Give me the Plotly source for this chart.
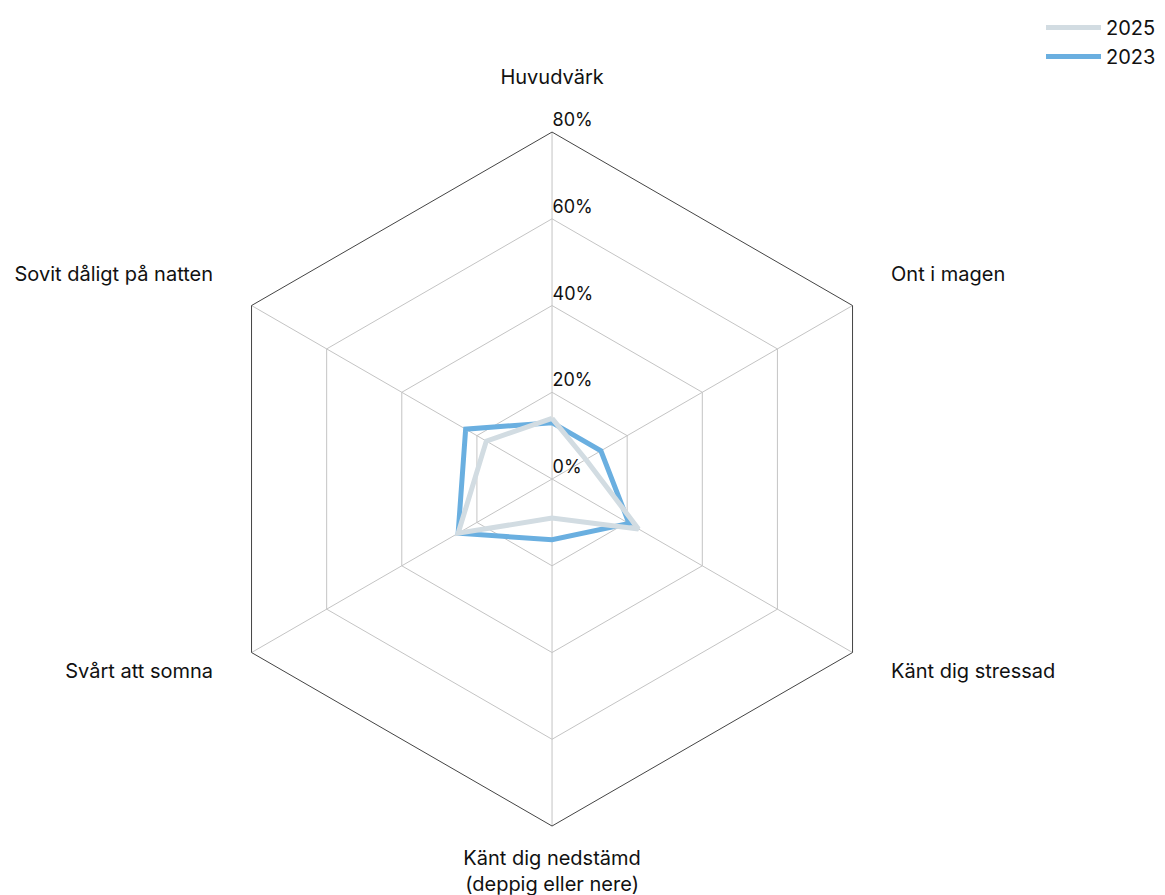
import plotly.graph_objects as go

pad = "\u00a0" * 4
categories = ["Huvudvärk<br> ", pad + "Ont i magen<br> ", pad + "Känt dig stressad",
              "Känt dig nedstämd<br>(deppig eller nere)", "Svårt att somna" + pad,
              "Sovit dåligt på natten" + pad + "<br> "]
values_2023 = [13, 13, 20.5, 14, 25, 23]
values_2025 = [14, 9, 23, 9, 25, 17.5]
radial_ticks = [0, 20, 40, 60, 80]

font_family = "Inter, Lato, sans-serif"

fig = go.Figure()
fig.add_trace(go.Scatterpolar(
    r=values_2023 + values_2023[:1], theta=categories + categories[:1],
    mode="lines", name="2023", line=dict(color="#6aafe0", width=5)))
fig.add_trace(go.Scatterpolar(
    r=values_2025 + values_2025[:1], theta=categories + categories[:1],
    mode="lines", name="2025", line=dict(color="#d2dce2", width=5)))

fig.update_layout(
    width=1165, height=895,
    margin=dict(l=0, r=12, t=0, b=0),
    paper_bgcolor="white", plot_bgcolor="white",
    font=dict(family=font_family, size=20, color="#111"),
    legend=dict(x=1.0, y=1, xanchor="right", yanchor="top", traceorder="reversed",
                font=dict(size=20), itemwidth=55),
    polar=dict(
        domain=dict(x=[0.1709, 0.7728], y=[0.0860, 0.8614]),
        gridshape="linear",
        bgcolor="white",
        radialaxis=dict(range=[0, 80], tickvals=radial_ticks,
                        ticktext=[f"{v}%<br> " for v in radial_ticks],
                        angle=90, tickangle=90, showline=False, ticks="",
                        gridcolor="#c4c4c4", gridwidth=1,
                        tickfont=dict(size=18)),
        angularaxis=dict(rotation=90, direction="clockwise",
                         linecolor="#444", linewidth=1, gridcolor="#c4c4c4",
                         ticks="outside", ticklen=14, tickcolor="rgba(0,0,0,0)",
                         tickfont=dict(size=20)),
    ),
)

fig.write_html("out.html")
